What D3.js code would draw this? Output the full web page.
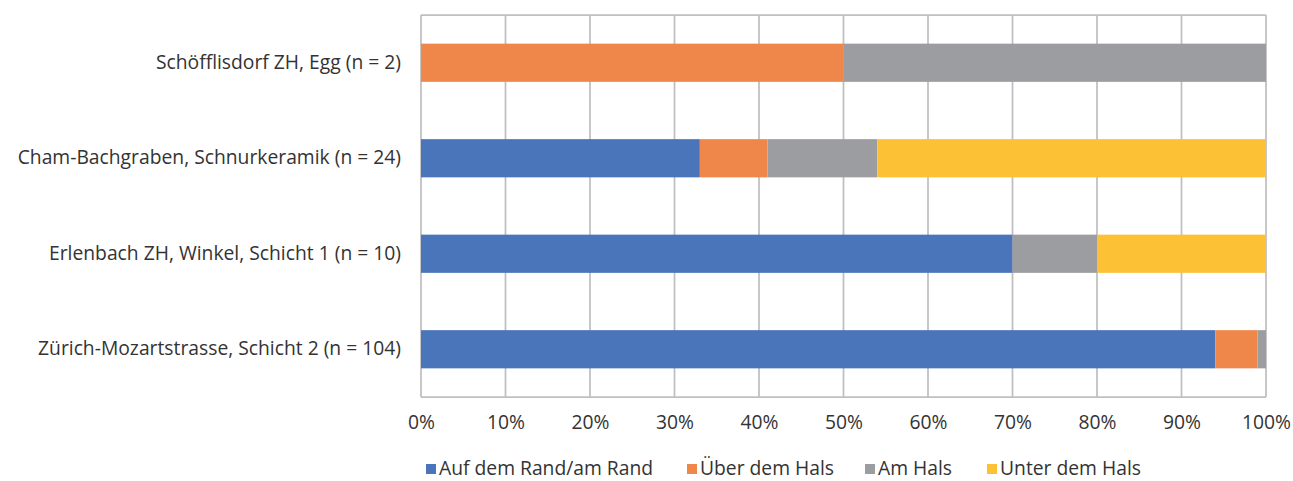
<!DOCTYPE html>
<html>
<head>
<meta charset="utf-8">
<script src="https://cdn.jsdelivr.net/npm/d3@7"></script>
<style>
  html, body { margin: 0; padding: 0; background: #fff; }
  svg { display: block; }
  text { font-family: "Open Sans", "Noto Sans", sans-serif; fill: #333; }
</style>
</head>
<body>
<svg id="chart" width="1293" height="481"></svg>
<script>
// Sites (top to bottom) and percentage shares per decoration position
const sites = [
  "Schöfflisdorf ZH, Egg (n = 2)",
  "Cham-Bachgraben, Schnurkeramik (n = 24)",
  "Erlenbach ZH, Winkel, Schicht 1 (n = 10)",
  "Zürich-Mozartstrasse, Schicht 2 (n = 104)"
];
const seriesNames = ["Auf dem Rand/am Rand", "Über dem Hals", "Am Hals", "Unter dem Hals"];
const aufDemRand  = [0, 33, 70, 94];
const ueberDemHals = [50, 8, 0, 5];
const amHals      = [50, 13, 10, 1];
const unterDemHals = [0, 46, 20, 0];
const tickValues = [0, 10, 20, 30, 40, 50, 60, 70, 80, 90, 100];
const colors = ["#4a75ba", "#f0874a", "#9c9da1", "#fcc135"];

const seriesValues = [aufDemRand, ueberDemHals, amHals, unterDemHals];
const rows = sites.map((s, i) => {
  const r = { site: s };
  seriesNames.forEach((n, k) => r[n] = seriesValues[k][i]);
  return r;
});

const svg = d3.select("#chart");
const plotLeft = 421, plotRight = 1266, plotTop = 15, plotBottom = 397;
const fontSize = "19.3px";

const x = d3.scaleLinear().domain([0, 100]).range([plotLeft, plotRight]);
const y = d3.scaleBand().domain(sites).range([plotTop, plotBottom]).paddingInner(0.6).paddingOuter(0.3);

// vertical gridlines
svg.append("g").selectAll("line").data(tickValues).join("line")
  .attr("x1", d => x(d)).attr("x2", d => x(d))
  .attr("y1", plotTop).attr("y2", plotBottom)
  .attr("stroke", "#bfbfc3").attr("stroke-width", 1.75);
// frame top/bottom
svg.append("g").selectAll("line").data([plotTop, plotBottom]).join("line")
  .attr("x1", plotLeft).attr("x2", plotRight)
  .attr("y1", d => d).attr("y2", d => d)
  .attr("stroke", "#bfbfc3").attr("stroke-width", 1.75);

// stacked bars
const stacked = d3.stack().keys(seriesNames)(rows);
svg.append("g").selectAll("g").data(stacked).join("g")
  .attr("fill", (d, i) => colors[i])
  .selectAll("rect").data(d => d.filter(p => p[1] > p[0])).join("rect")
  .attr("x", d => x(d[0]))
  .attr("width", d => x(d[1]) - x(d[0]))
  .attr("y", d => y(d.data.site))
  .attr("height", y.bandwidth());

// category labels
const yAxis = svg.append("g").attr("transform", `translate(${plotLeft},0)`)
  .call(d3.axisLeft(y).tickSize(0).tickPadding(20));
yAxis.select(".domain").remove();
yAxis.selectAll("text").style("font-size", fontSize).attr("fill", "#333");

// percentage axis
const xAxis = svg.append("g").attr("transform", `translate(0,${plotBottom})`)
  .call(d3.axisBottom(x).tickValues(tickValues).tickSize(0).tickPadding(18)
    .tickFormat(d => d + "%"));
xAxis.select(".domain").remove();
xAxis.selectAll("text").style("font-size", fontSize).attr("fill", "#333");

// legend
const legendX = [426, 687, 865, 987];
const legend = svg.append("g").selectAll("g").data(seriesNames).join("g")
  .attr("transform", (d, i) => `translate(${legendX[i]},468)`);
legend.append("rect").attr("x", 0).attr("y", -4).attr("width", 10).attr("height", 10)
  .attr("fill", (d, i) => colors[i]);
legend.append("text").attr("x", 13).attr("dy", "0.35em")
  .style("font-size", fontSize).text(d => d);
</script>
</body>
</html>
